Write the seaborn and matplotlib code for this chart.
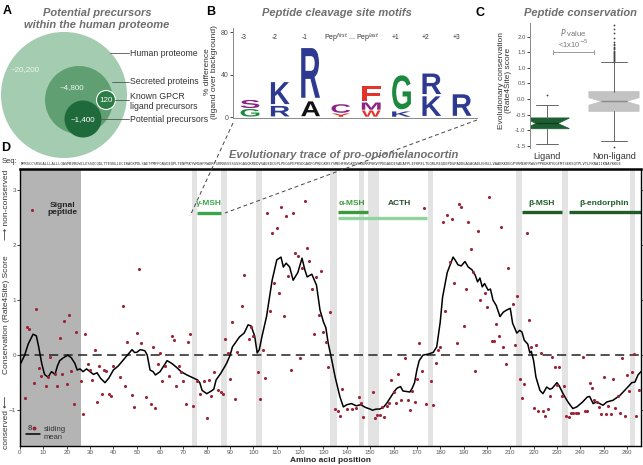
import numpy as np
import matplotlib
matplotlib.use("Agg")
import matplotlib.pyplot as plt
from matplotlib.patches import Circle, PathPatch
from matplotlib.textpath import TextPath
from matplotlib.font_manager import FontProperties
from matplotlib.transforms import Affine2D, blended_transform_factory
import seaborn as sns

# ---------------- data ----------------
# A: nested protein sets
venn_names = ["Human proteome", "Secreted proteins", "Known GPCR\nligand precursors", "Potential precursors"]
venn_counts = ["~20,200", "~4,800", "120", "~1,400"]

# B: cleavage-site logo, letters stacked bottom -> top, height = % difference
motif_columns = ["-3", "-2", "-1", "", "", "+1", "+2", "+3"]
motif_letters = [["G", "S"], ["R", "K"], ["A", "R"], ["Y", "C"], ["W", "M", "F"],
                 ["K", "G"], ["K", "R"], ["R"]]
motif_heights = [[8, 8.5], [11, 23], [15.5, 52], [3.5, 9], [6.5, 7.5, 15.5],
                 [5.5, 35.5], [20.5, 21.5], [22.5]]
letter_colors = {"R": "#2e3a92", "K": "#2e3a92", "G": "#1c8a3e", "S": "#8a2383",
                 "C": "#8a2383", "M": "#8a2383", "A": "#111111", "Y": "#e2342c",
                 "F": "#e2342c", "W": "#e2342c"}

# C: conservation score distributions (box statistics)
box_groups = ["Ligand", "Non-ligand"]
box_med = [-0.79, -0.08]
box_q1 = [-0.96, -0.40]
box_q3 = [-0.61, 0.24]
box_lo = [-1.46, -1.37]
box_hi = [-0.18, 1.20]
box_ci_lo = [-0.95, -0.20]
box_ci_hi = [-0.62, 0.04]
ligand_fliers = [0.14]
nonligand_fliers = [1.24, 1.27, 1.30, 1.33, 1.36, 1.39, 1.42, 1.45, 1.48, 1.52, 1.56,
                    1.60, 1.64, 1.68, 1.73, 1.78, 1.84, 1.97, 2.12, 2.25, 2.38, -1.56]

# D: per-residue Rate4Site score of POMC (residue, score)
pomc_seq = ("MPRSCCSRSGALLLALLLQASMEVRGWCLESSQCQDLTTESNLLECIRACKPDLSAETPMFPGNGDEQPL"
            "TENPRKYVMGHFRWDRFGRRNSSSSGSSGAGQKREDVSAGEDCGPLPEGGPEPRSDGAKPGPREGKRSYS"
            "MEHFRWGKPVGKKRRPVKVYPNGAEDESAEAFPLEFKRELTGQRLREGDGPDGPADDGAGAQADLEHSLL"
            "VAAEKKDEGPYRMEHFRWGSPPKDKRYGGFMTSEKSQTPLVTLFKNAIIKNAYKKGE")
site_scores = [
    (2, -0.78), (3, 0.51), (4, 0.47), (5, 2.64), (6, -0.51), (7, 0.84), (8, -0.24),
    (9, -0.38), (11, -0.56), (12, -0.40), (13, -0.04), (15, -0.35), (16, -0.56),
    (17, 0.31), (18, -0.35), (19, 0.62), (20, -0.53), (21, 0.73), (22, -0.29),
    (23, -0.89), (24, 0.42), (26, -0.47), (27, -1.06), (28, 0.38), (29, -0.16),
    (30, -0.27), (31, -0.45), (32, 0.10), (33, -0.86), (34, -0.20), (35, -0.70),
    (36, -0.27), (37, -0.29), (38, -0.70), (39, -0.74), (40, -0.20), (43, -0.40),
    (44, 0.90), (45, -0.56), (46, 0.24), (48, -0.72), (49, -0.94), (50, 0.40),
    (51, 1.56), (52, 0.22), (54, -0.76), (56, -0.88), (57, 0.15), (58, -0.96),
    (59, -0.17), (60, 0.04), (61, -0.47), (62, -0.20), (64, -0.38), (65, 0.35),
    (66, 0.27), (67, -0.56), (68, -0.20), (69, -0.30), (70, -0.47), (71, -0.88),
    (72, 0.24), (73, 0.38), (74, -0.93), (76, -0.47), (77, -0.70), (79, -0.47),
    (80, -1.15), (81, -0.45), (82, -0.74), (83, -0.30), (85, -0.64), (86, -0.67),
    (87, -0.70), (88, 0.29), (89, 0.04), (90, -0.44), (91, 0.60), (92, -0.80),
    (93, 0.05), (95, 0.89), (96, 1.45), (98, 0.29), (99, 0.51), (100, 0.35),
    (102, -0.30), (103, -0.80), (104, 0.10), (105, -0.42), (106, 2.58), (107, 0.80),
    (108, 2.22), (109, 1.31), (110, 2.30), (111, 1.13), (112, 2.69), (113, 0.71),
    (114, 2.53), (115, 1.44), (116, -0.27), (117, 2.58), (118, 1.85), (119, 1.80),
    (120, -0.05), (121, 1.58), (122, 2.80), (123, 1.95), (124, 1.71), (125, 1.20),
    (126, 0.38), (127, 1.42), (128, 0.73), (129, 1.53), (130, 0.42), (131, 0.24),
    (132, -0.22), (133, 0.78), (135, -0.98), (136, -1.02), (137, -1.10), (138, -0.62),
    (140, -0.98), (142, -0.98), (144, -0.96), (145, -0.76), (146, -0.87), (147, -1.13),
    (151, -0.67), (152, -1.15), (153, -1.09), (154, -1.09), (155, -0.95), (156, -1.13),
    (157, -0.93), (158, -0.87), (159, -0.45), (160, -0.67), (161, -0.87), (162, -0.35),
    (163, -0.82), (165, -0.05), (166, -0.82), (167, -1.00), (168, -0.65), (169, -0.85),
    (170, -0.44), (171, 0.22), (172, -0.29), (173, 2.67), (174, -0.88), (176, -0.47),
    (177, -0.90), (178, -0.14), (179, 0.09), (180, 0.15), (181, 2.42), (182, 0.80),
    (183, 2.55), (184, 1.69), (185, 2.47), (186, 1.31), (187, 0.22), (188, 2.75),
    (189, 2.69), (190, 0.53), (191, 1.20), (192, 2.42), (193, 1.93), (194, 1.51),
    (195, -0.29), (196, 2.25), (197, 1.00), (199, 1.13), (200, 0.87), (201, 2.87),
    (202, 0.25), (203, 0.25), (204, 0.56), (205, 0.35), (206, 2.33), (207, 0.15),
    (208, -0.16), (209, 1.58), (211, 0.93), (212, 0.18), (213, 1.07), (214, -0.44),
    (215, -0.78), (216, -0.53), (217, 2.22), (218, 0.64), (219, 0.15), (220, -0.96),
    (221, 0.18), (222, -1.02), (223, 0.04), (224, -1.02), (225, -1.10), (226, -0.98),
    (227, -0.75), (228, -0.03), (229, -0.22), (230, -0.55), (231, -0.22), (232, -0.75),
    (233, -0.56), (234, -1.10), (235, -1.13), (236, -1.05), (237, -1.05), (238, -1.05),
    (239, -1.05), (241, -0.03), (242, -1.02), (243, -1.02), (244, -0.51), (245, -0.60),
    (246, -0.82), (247, -0.86), (248, -0.94), (249, -1.07), (250, -0.40), (251, -1.07),
    (252, -0.93), (253, -1.07), (254, -0.44), (255, -0.96), (256, -0.75), (257, -1.05),
    (258, -0.05), (259, -1.10), (260, -0.36), (261, -0.65), (262, -0.31), (263, 0.02),
    (264, -1.10), (265, -0.64)]
# sliding mean (window 8) (position, score)
sliding_mean = [
    (0.3, -0.15), (2, 0.0), (3.5, 0.2), (5.6, 0.38), (7, 0.35), (8, 0.15), (9.3, -0.15),
    (10.5, -0.35), (12, -0.4), (13.5, -0.3), (15, -0.35), (16, -0.2), (17, -0.1),
    (18.5, -0.05), (20.5, 0.0), (22, -0.05), (23.5, -0.15), (24.5, -0.27), (25.7, -0.25),
    (27, -0.3), (28.5, -0.25), (30, -0.3), (31.5, -0.35), (33, -0.32), (34.5, -0.42),
    (36.4, -0.5), (38, -0.42), (40, -0.27), (42, -0.2), (44, -0.1), (46, 0.0), (48, 0.1),
    (49, 0.05), (50, 0.05), (51.5, 0.1), (53.5, 0.08), (54.5, 0.0), (55.7, -0.27),
    (57, -0.3), (58, -0.36), (60, -0.3), (61.5, -0.2), (63, -0.1), (65, -0.15),
    (67, -0.22), (69, -0.3), (71.5, -0.36), (73.5, -0.4), (76, -0.45), (77, -0.5),
    (78, -0.64), (80, -0.7), (82, -0.65), (83, -0.62), (84, -0.45), (86, -0.33),
    (88.5, -0.15), (90, 0.0), (91, 0.15), (94, 0.33), (96, 0.4), (97.7, 0.55), (99, 0.53),
    (100.5, 0.35), (101.6, 0.04), (102.5, 0.1), (103.6, 0.33), (105.6, 0.7), (108, 1.36),
    (110, 1.73), (111.8, 1.78), (112.8, 1.6), (114, 1.67), (115.5, 1.6), (117, 1.36),
    (119, 1.5), (120.8, 1.76), (122, 1.55), (123, 1.42), (125, 1.47), (127, 1.27),
    (128.5, 0.82), (130, 0.6), (131, 0.5), (132, 0.22), (133.6, -0.1), (135, -0.4),
    (137, -0.75), (138.5, -0.94), (140, -0.9), (142, -0.88), (144, -0.92), (146, -0.9),
    (148, -0.95), (150, -0.98), (151, -1.0), (152.5, -0.98), (154, -0.98),
    (155.6, -0.95), (157, -0.88), (159, -0.75), (160.5, -0.65), (161.5, -0.6),
    (163, -0.57), (164, -0.65), (167, -0.67), (168, -0.6), (169, -0.5), (170, -0.27),
    (171, -0.1), (172.6, 0.0), (175, 0.02), (177, 0.05), (178.5, 0.15), (180, 0.6),
    (181, 1.05), (183, 1.5), (185.5, 1.78), (186.5, 1.72), (187.6, 1.64), (189, 1.62),
    (190.6, 1.7), (192, 1.6), (193.6, 1.55), (195, 1.45), (196, 1.33), (197, 1.4),
    (198, 1.24), (199, 1.3), (200.5, 1.18), (201.5, 1.2), (202.6, 1.0), (204, 0.9),
    (205.6, 0.7), (207, 0.78), (208.5, 0.82), (210, 0.85), (211, 0.58), (212.8, 0.4),
    (214, 0.45), (215, 0.42), (216, 0.27), (217.5, 0.2), (218.4, 0.04), (219, 0.07),
    (220, -0.1), (221, -0.4), (222.7, -0.64), (224, -0.7), (225.6, -0.58), (227, -0.62),
    (228, -0.6), (230, -0.5), (231, -0.56), (232.6, -0.7), (234.7, -0.85),
    (236.8, -0.97), (238.5, -0.94), (241, -0.85), (243, -0.76), (244, -0.75),
    (245.5, -0.88), (247, -0.85), (249.7, -0.91), (251.4, -0.85), (254, -0.82),
    (257, -0.73), (259, -0.64), (261, -0.55), (262, -0.5), (263.4, -0.49),
    (264.7, -0.36), (266, -0.3)]
peptides = ["γ-MSH", "α-MSH", "ACTH", "β-MSH", "β-endorphin"]
pep_start = [76, 136, 136, 215, 235]
pep_end = [86, 149, 174.5, 232, 266]
cleave_start = [73.6, 86.2, 101.2, 132.7, 145.0, 149.2, 174.7, 212.4, 232.2, 261.2]
cleave_end = [75.8, 88.8, 103.6, 135.8, 147.2, 153.8, 177.0, 215.0, 234.9, 263.6]
signal_end = 26

residue, score = [list(v) for v in zip(*site_scores)]
mean_pos, mean_score = [list(v) for v in zip(*sliding_mean)]

# ---------------- style ----------------
sns.set_theme(style="ticks")
plt.rcParams["font.family"] = ["Liberation Sans", "DejaVu Sans"]
title_kw = dict(fontsize=8, fontweight="bold", fontstyle="italic", color="#6e6e6e")
tick_grey = "#555555"

W, H = 643, 465
fig = plt.figure(figsize=(W / 100, H / 100), dpi=100)


def px_axes(x0, y0, x1, y1):
    # pixel box (top-left origin) -> axes
    return fig.add_axes([x0 / W, (H - y1) / H, (x1 - x0) / W, (y1 - y0) / H])


# ---------------- D ----------------
axD = px_axes(20, 169, 641, 446)
axD.axvspan(0, signal_end, color="#b4b4b4", lw=0, zorder=0)
for a, b in zip(cleave_start, cleave_end):
    axD.axvspan(a, b, color="#e3e3e3", lw=0, zorder=0)
axD.axhline(0, color="#222222", lw=1.1, ls=(0, (6, 3.5)), zorder=1)
sns.lineplot(x=mean_pos, y=mean_score, color="black", lw=1.1, estimator=None,
             ax=axD, zorder=2)
sns.scatterplot(x=residue, y=score, color="#9b2335", s=5, linewidth=0, ax=axD,
                zorder=3)

pep_colors = ["#3aa54a", "#3b9a3b", "#93d3a0", "#1d5e28", "#1d5e28"]
pep_text = ["#3aa54a", "#3b9a3b", "#2e4a30", "#1d5e28", "#1d5e28"]
pep_y = [2.58, 2.6, 2.49, 2.6, 2.6]
pep_lab_x = [81, 142, 162.5, 223.5, 250]
for name, a, b, c, tc, y, lx in zip(peptides, pep_start, pep_end, pep_colors,
                                      pep_text, pep_y, pep_lab_x):
    axD.plot([a, b], [y, y], color=c, lw=2.4, solid_capstyle="butt", zorder=2)
    axD.text(lx, 2.75, name, color=tc, fontsize=6, fontweight="bold",
             ha="center", va="center")
axD.text(18, 2.65, "Signal\npeptide", fontsize=6, fontweight="bold", color="#222222",
         ha="center", va="center", linespacing=1.1)

axD.set_xlim(0, 266)
axD.set_ylim(-1.65, 3.38)
axD.set_xticks(range(0, 261, 10))
axD.set_yticks([-1, 0, 1, 2, 3])
axD.tick_params(labelsize=4.5, labelcolor=tick_grey, length=2, width=0.6, pad=1.2,
                right=True, direction="out")
axD.tick_params(axis="y", pad=0.8)
for s in axD.spines.values():
    s.set_color("black")
    s.set_linewidth(1.0)
axD.spines["top"].set_linewidth(1.8)
axD.set_xlabel("Amino acid position", fontsize=6, fontweight="bold", labelpad=1)
axD.set_ylabel("")

top = blended_transform_factory(axD.transData, axD.transAxes)
axD.text(0.5, 1.012, pomc_seq, transform=top, fontsize=2.72, family="DejaVu Sans Mono",
         ha="left", va="bottom", color="#333333")
# legend: window size / sliding mean
axD.text(4.3, -1.33, "8", fontsize=5.5, color="#222222", ha="center", va="center")
axD.plot([6], [-1.33], "o", ms=1.8, color="#9b2335")
axD.plot([2.6, 8.6], [-1.44, -1.44], color="black", lw=1.1)
axD.text(10, -1.42, "sliding\nmean", fontsize=5.5, color="#333333", ha="left",
         va="center", linespacing=1.1)

# ---------------- B ----------------
axB = px_axes(233, 28, 477, 118)
fp = FontProperties(family="Liberation Sans", weight="bold")
letter_w = 0.62
for i, (letters, heights) in enumerate(zip(motif_letters, motif_heights)):
    base = 0
    for ch, h in zip(letters, heights):
        tp = TextPath((0, 0), ch, size=1, prop=fp)
        bb = tp.get_extents()
        hh = h * 0.9
        tr = (Affine2D().translate(-bb.x0, -bb.y0)
              .scale(letter_w / bb.width, hh / bb.height)
              .translate(i - letter_w / 2, base + (h - hh) / 2))
        axB.add_patch(PathPatch(tr.transform_path(tp), fc=letter_colors[ch], ec="none"))
        base += h
    if motif_columns[i]:
        axB.text(i - 0.2, 75, motif_columns[i], fontsize=4.8, color="#333333",
                 ha="center", va="center")
axB.text(3.35, 75, "Pep$^{first}$ ... Pep$^{last}$", fontsize=5, color="#333333",
         ha="center", va="center")
axB.set_xlim(-0.56, 7.49)
axB.set_ylim(-0.94, 83.8)
axB.set_xticks([])
axB.set_yticks([0, 40, 80])
axB.tick_params(labelsize=5, labelcolor=tick_grey, length=2, width=0.6, pad=1.2)
sns.despine(ax=axB)
for s in ("left", "bottom"):
    axB.spines[s].set_color("#888888")
    axB.spines[s].set_linewidth(0.7)

# ---------------- C ----------------
axC = px_axes(530, 23, 643, 148)
stats = []
for i, g in enumerate(box_groups):
    stats.append(dict(med=box_med[i], q1=box_q1[i], q3=box_q3[i], whislo=box_lo[i],
                      whishi=box_hi[i], cilo=box_ci_lo[i], cihi=box_ci_hi[i],
                      fliers=np.array(ligand_fliers if i == 0 else nonligand_fliers),
                      label=g))
bp = axC.bxp(stats, positions=[0, 1], widths=[0.66, 0.75], shownotches=True,
             patch_artist=True, showfliers=True)
box_fc = ["#1d5e32", "#c3c3c3"]
med_c = ["#0f3d1f", "#8a8a8a"]
for i in range(2):
    bp["boxes"][i].set(facecolor=box_fc[i], edgecolor=box_fc[i], linewidth=0.5)
    bp["medians"][i].set(color=med_c[i], linewidth=1.0)
    bp["fliers"][i].set(marker="o", markersize=1.3, markerfacecolor="#444444",
                        markeredgecolor="none")
for ln in bp["whiskers"] + bp["caps"]:
    ln.set(color="#666666", linewidth=0.7)
axC.set_xlim(-0.254, 1.433)
axC.set_ylim(-1.58, 2.45)
axC.set_yticks(np.arange(-1.5, 2.01, 0.5))
axC.set_yticklabels([f"{v:.1f}" for v in np.arange(-1.5, 2.01, 0.5)])
axC.tick_params(axis="y", labelsize=4.3, labelcolor=tick_grey, length=2, width=0.6,
                pad=1.2)
axC.tick_params(axis="x", labelsize=6.5, labelcolor="#333333", length=0, pad=3)
sns.despine(ax=axC, bottom=True)
axC.spines["left"].set_color("#888888")
axC.spines["left"].set_linewidth(0.7)
axC.plot([0.09, 0.70], [1.51, 1.51], color="#999999", lw=0.7)
for xb in (0.09, 0.70):
    axC.plot([xb, xb], [1.45, 1.57], color="#999999", lw=0.7)
axC.text(0.39, 2.13, "$P$ value", fontsize=5.5, color="#777777", ha="center",
         va="center")
axC.text(0.39, 1.78, "<1x10$^{-5}$", fontsize=5.5, color="#777777", ha="center",
         va="center")

# ---------------- overlay: A, titles, connectors ----------------
ov = fig.add_axes([0, 0, 1, 1])
ov.set_xlim(0, W)
ov.set_ylim(H, 0)
ov.axis("off")
ov.patch.set_alpha(0)

circles = [((64, 95), 63, "#a3ccb0"), ((79, 100), 34, "#5f9f72"),
           ((83, 119), 18.5, "#1f6a3b"), ((106, 100), 9.5, "#2c7c45")]
for (c, r, col) in circles:
    ov.add_patch(Circle(c, r, facecolor=col, edgecolor="white" if r < 10 else "none",
                        lw=0.8))
count_xy = [(25, 70), (72, 88), (106, 100.5), (83, 120)]
count_col = ["#eef6ef", "#f2f8f2", "white", "white"]
for t, (x, y), c in zip(venn_counts, count_xy, count_col):
    ov.text(x, y, t, fontsize=5.8, color=c, ha="center", va="center")
conn = [(110, 53), (112, 82), (115, 100), (101, 119)]
lab_y = [53, 82, 101.5, 119]
for name, (x0, y0), ly in zip(venn_names, conn, lab_y):
    ov.plot([x0, 128.5], [y0, y0], color="#555555", lw=0.6)
    ov.text(130, ly, name, fontsize=6.3, color="#333333", ha="left", va="center",
            linespacing=1.25)

ov.text(97, 19, "Potential precursors\nwithin the human proteome", ha="center",
        va="center", linespacing=1.15, **title_kw)
ov.text(337, 13, "Peptide cleavage site motifs", ha="center", va="center", **title_kw)
ov.text(580, 13, "Peptide conservation", ha="center", va="center", **title_kw)
ov.text(344, 155, "Evolutionary trace of pro-opiomelanocortin", ha="center",
        va="center", **title_kw)

for lab, (x, y) in zip("ABCD", [(3, 11), (206, 12), (475, 13), (1, 148)]):
    ov.text(x, y, lab, fontsize=9, fontweight="bold", color="black", ha="left",
            va="center")
ov.text(2, 161, "Seq:", fontsize=5.5, color="#333333", ha="left", va="center")

# zoom wedge from gamma-MSH to panel B
ov.plot([233, 190], [123, 216], color="#444444", lw=0.7, ls=(0, (4, 3)))
ov.plot([477, 225], [120, 213], color="#444444", lw=0.7, ls=(0, (4, 3)))

# y axis labels
ylab = dict(rotation=90, fontsize=6.0, color="#333333", ha="center", va="center")
fig.text(7 / W, 1 - 422 / H, "conserved \u27f5", **ylab)
fig.text(7 / W, 1 - 315 / H, "Conservation (Rate4Site) Score", **ylab)
fig.text(7 / W, 1 - 205 / H, "\u27f6 non-conserved", **ylab)
fig.text(211 / W, 1 - 72 / H, "% difference\n(ligand over background)",
         linespacing=1.1, **ylab)
fig.text(505 / W, 1 - 80 / H, "Evolutionary conservation\n(Rate4Site) score",
         linespacing=1.1, **ylab)

fig.savefig("out.png", dpi=100)
